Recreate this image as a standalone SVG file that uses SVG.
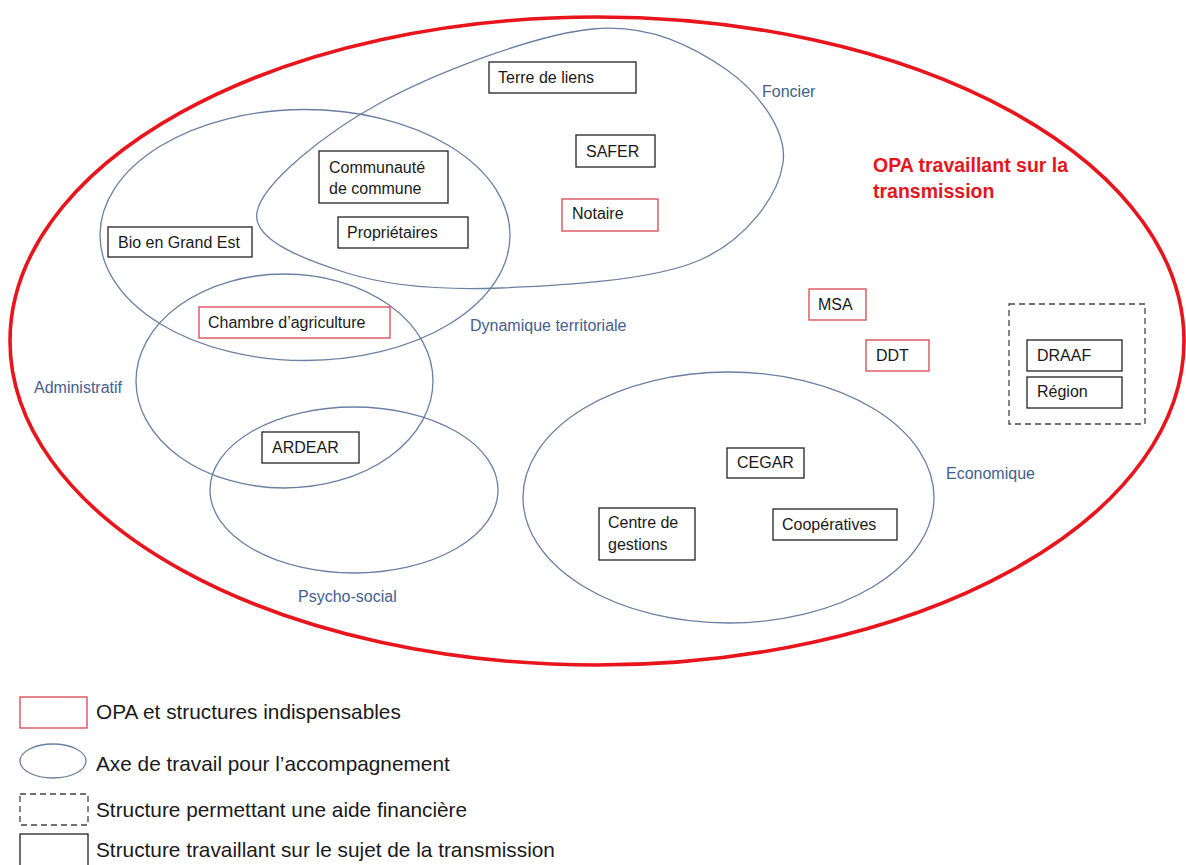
<svg xmlns="http://www.w3.org/2000/svg" width="1186" height="865" viewBox="0 0 1186 865">
<style>
text{font-family:"Liberation Sans",Arial,sans-serif;}
.bg{fill:#ffffff;}
.outer{fill:none;stroke:#e8151c;stroke-width:3.6;}
.axis{fill:none;stroke:#6a7fa3;stroke-width:1.3;}
.box{fill:#ffffff;stroke:#222222;stroke-width:1.3;}
.rbox{fill:#ffffff;stroke:#d9464f;stroke-width:1.3;}
.dbox{fill:none;stroke:#444444;stroke-width:1.3;stroke-dasharray:6 4;}
.t{font-size:16px;fill:#1a1a1a;}
.lbl{font-size:16px;fill:#44608f;}
.title{font-size:19.5px;font-weight:bold;fill:#e3161d;}
.leg{font-size:20.8px;fill:#1a1a1a;}
</style>
<rect class="bg" x="0" y="0" width="1186" height="865"/>

<g id="opa-transmission">
  <ellipse class="outer" cx="597" cy="341" rx="587" ry="324"/>
  <text class="title" x="873" y="172">OPA travaillant sur la</text>
  <text class="title" x="873" y="198">transmission</text>
</g>

<g id="axe-foncier">
  <path class="axis" d="M257,212 C262.5,183.7 324,133.5 380,103 C436,72.5 535.2,34.5 593,29 C650.8,23.5 695.3,47.7 727,70 C758.7,92.3 787.5,131.3 783,163 C778.5,194.7 747.2,239.2 700,260 C652.8,280.8 558.8,285.8 500,288 C441.2,290.2 387.5,285.7 347,273 C306.5,260.3 251.5,240.3 257,212 Z"/>
  <text class="lbl" x="762" y="97">Foncier</text>
</g>
<g id="axe-dynamique-territoriale">
  <ellipse class="axis" cx="305" cy="235" rx="205" ry="125.5"/>
  <text class="lbl" x="470" y="331">Dynamique territoriale</text>
</g>
<g id="axe-administratif">
  <ellipse class="axis" cx="284.5" cy="381" rx="148.5" ry="107"/>
  <text class="lbl" x="34" y="393">Administratif</text>
</g>
<g id="axe-psycho-social">
  <ellipse class="axis" cx="354" cy="490" rx="144" ry="83"/>
  <text class="lbl" x="298" y="602">Psycho-social</text>
</g>
<g id="axe-economique">
  <ellipse class="axis" cx="728.5" cy="497.5" rx="205.5" ry="125.5"/>
  <text class="lbl" x="946" y="479">Economique</text>
</g>

<g id="terre-de-liens">
  <rect class="box" x="489" y="62" width="147" height="31"/>
  <text class="t" x="498" y="83">Terre de liens</text>
</g>
<g id="safer">
  <rect class="box" x="576" y="135" width="79" height="32"/>
  <text class="t" x="586" y="157">SAFER</text>
</g>
<g id="communaute-de-commune">
  <rect class="box" x="319" y="151" width="129" height="52"/>
  <text class="t" x="329" y="173">Communauté</text>
  <text class="t" x="329" y="194">de commune</text>
</g>
<g id="proprietaires">
  <rect class="box" x="338" y="217" width="130" height="31"/>
  <text class="t" x="347" y="238">Propriétaires</text>
</g>
<g id="notaire">
  <rect class="rbox" x="562" y="199" width="96" height="32"/>
  <text class="t" x="572" y="219">Notaire</text>
</g>
<g id="bio-en-grand-est">
  <rect class="box" x="108" y="227" width="144" height="30"/>
  <text class="t" x="118" y="248">Bio en Grand Est</text>
</g>
<g id="chambre-agriculture">
  <rect class="rbox" x="199" y="307" width="191" height="31"/>
  <text class="t" x="208" y="328">Chambre d’agriculture</text>
</g>
<g id="ardear">
  <rect class="box" x="262" y="432" width="97" height="31"/>
  <text class="t" x="272" y="453">ARDEAR</text>
</g>
<g id="msa">
  <rect class="rbox" x="809" y="289" width="57" height="31"/>
  <text class="t" x="818" y="310">MSA</text>
</g>
<g id="ddt">
  <rect class="rbox" x="866" y="340" width="63" height="31"/>
  <text class="t" x="876" y="361">DDT</text>
</g>
<g id="aide-financiere">
  <rect class="dbox" x="1009" y="304" width="136" height="120"/>
  <g id="draaf">
    <rect class="box" x="1027" y="340" width="95" height="31"/>
    <text class="t" x="1037" y="361">DRAAF</text>
  </g>
  <g id="region">
    <rect class="box" x="1027" y="377" width="95" height="31"/>
    <text class="t" x="1037" y="397">Région</text>
  </g>
</g>
<g id="cegar">
  <rect class="box" x="727" y="448" width="77" height="30"/>
  <text class="t" x="737" y="468">CEGAR</text>
</g>
<g id="centre-de-gestions">
  <rect class="box" x="599" y="508" width="96" height="52"/>
  <text class="t" x="608" y="528">Centre de</text>
  <text class="t" x="608" y="550">gestions</text>
</g>
<g id="cooperatives">
  <rect class="box" x="773" y="509" width="124" height="31"/>
  <text class="t" x="782" y="530">Coopératives</text>
</g>

<g id="connectors"></g>

<g id="legend">
  <rect class="rbox" x="20" y="697" width="67" height="31"/>
  <text class="leg" x="96" y="719">OPA et structures indispensables</text>
  <ellipse class="axis" cx="53" cy="761" rx="33" ry="17"/>
  <text class="leg" x="96" y="771">Axe de travail pour l’accompagnement</text>
  <rect class="dbox" x="20" y="794" width="68" height="31"/>
  <text class="leg" x="96" y="817">Structure permettant une aide financière</text>
  <rect class="box" x="20" y="834" width="68" height="40"/>
  <text class="leg" x="96" y="857">Structure travaillant sur le sujet de la transmission</text>
</g>
</svg>
